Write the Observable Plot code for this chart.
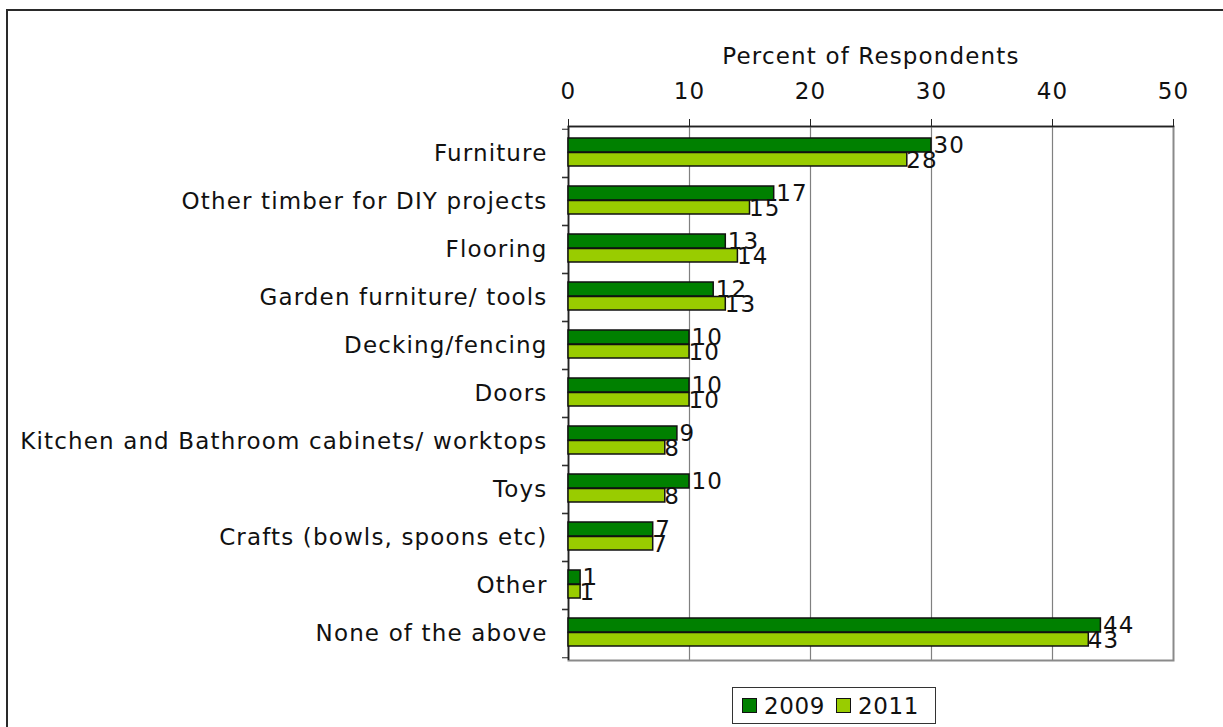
<!DOCTYPE html>
<html>
<head>
<meta charset="utf-8">
<script src="https://cdn.jsdelivr.net/npm/d3@7"></script>
<script src="https://cdn.jsdelivr.net/npm/@observablehq/plot@0.6"></script>
<style>
  html, body { margin: 0; padding: 0; background: #fff; }
  #wrap { position: relative; width: 1223px; height: 727px; overflow: hidden; background: #fff; font-family: "DejaVu Sans", sans-serif; }
  #outer { position: absolute; left: 6px; top: 9px; width: 1400px; height: 900px; border-left: 2px solid #2a2a2a; border-top: 2px solid #2a2a2a; box-sizing: border-box; }
  #chart { position: absolute; left: 0; top: 0; }
  #chart svg text { letter-spacing: 1.15px; }
  #legend { position: absolute; left: 732px; top: 687px; width: 204px; height: 37px; border: 1px solid #333; box-sizing: border-box; background: #fff;
            display: flex; align-items: center; padding-left: 9px; font-size: 23px; color: #111; letter-spacing: 0.6px; }
  .sw { display: inline-block; width: 13px; height: 13px; border: 1px solid #111; margin-right: 7px; }
  .item { display: flex; align-items: center; margin-right: 11px; }
</style>
</head>
<body>
<div id="wrap">
  <div id="outer"></div>
  <div id="chart"></div>
  <div id="legend"></div>
</div>
<script>
const categories = [
  "Furniture",
  "Other timber for DIY projects",
  "Flooring",
  "Garden furniture/ tools",
  "Decking/fencing",
  "Doors",
  "Kitchen and Bathroom cabinets/ worktops",
  "Toys",
  "Crafts (bowls, spoons etc)",
  "Other",
  "None of the above"
];
const values2009 = [30, 17, 13, 12, 10, 10, 9, 10, 7, 1, 44];
const values2011 = [28, 15, 14, 13, 10, 10, 8, 8, 7, 1, 43];
const years = ["2009", "2011"];
const yearColors = ["#008000", "#99CC00"];
const xTicks = [0, 10, 20, 30, 40, 50];
const xTitle = "Percent of Respondents";

const rows2009 = categories.map((c, i) => ({category: c, year: "2009", value: values2009[i]}));
const rows2011 = categories.map((c, i) => ({category: c, year: "2011", value: values2011[i]}));

const mTop = 126, mBottom = 12, mLeft = 568, mRight = 50;
const plotH = 534;
const bw = plotH / categories.length;
const FS = 23;

const chart = Plot.plot({
  width: 1223,
  height: mTop + plotH + mBottom,
  marginTop: mTop, marginBottom: mBottom, marginLeft: mLeft, marginRight: mRight,
  style: {fontFamily: "DejaVu Sans", fontSize: FS + "px", color: "#111", background: "transparent"},
  x: {domain: [0, 50]},
  y: {domain: categories, padding: 0, axis: null},
  color: {domain: years, range: yearColors},
  marks: [
    Plot.gridX(xTicks.filter(t => t > 0 && t < 50), {stroke: "#808080", strokeOpacity: 1, strokeWidth: 1.2}),
    Plot.frame({stroke: "#8a8a8a", strokeWidth: 2}),
    Plot.ruleX([0], {stroke: "#222", strokeWidth: 1.5}),
    Plot.frame({anchor: "top", stroke: "#222", strokeWidth: 1.5}),
    Plot.barX(rows2009, {x: "value", y: "category", fill: "year", stroke: "#111", strokeWidth: 1.5, insetTop: 9, insetBottom: 25}),
    Plot.barX(rows2011, {x: "value", y: "category", fill: "year", stroke: "#111", strokeWidth: 1.5, insetTop: 23.5, insetBottom: 11}),
    Plot.text(rows2009, {x: "value", y: "category", text: d => String(d.value), textAnchor: "start", dx: 2, dy: -8, fontSize: FS, fill: "#111"}),
    Plot.text(rows2011, {x: "value", y: "category", text: d => String(d.value), textAnchor: "start", dx: -1, dy: 7, fontSize: FS, fill: "#111"}),
    Plot.axisX(xTicks, {anchor: "top", tickSize: 8, tickPadding: 20, fontSize: FS, stroke: "#222", label: xTitle, labelAnchor: "center", labelOffset: 79, labelArrow: "none"}),
    Plot.axisY({anchor: "left", tickSize: 0, tickPadding: 21, fontSize: FS, label: null}),
    Plot.axisY({anchor: "left", tickSize: 6, tickFormat: () => "", dy: -bw / 2, stroke: "#222", label: null}),
    Plot.axisY({anchor: "left", tickSize: 6, tickFormat: () => "", dy: bw / 2, stroke: "#222", label: null})
  ]
});
document.getElementById("chart").appendChild(chart);

const legend = document.getElementById("legend");
years.forEach((y, i) => {
  const item = document.createElement("div");
  item.className = "item";
  const sw = document.createElement("span");
  sw.className = "sw";
  sw.style.background = yearColors[i];
  item.appendChild(sw);
  item.appendChild(document.createTextNode(y));
  legend.appendChild(item);
});
</script>
</body>
</html>
